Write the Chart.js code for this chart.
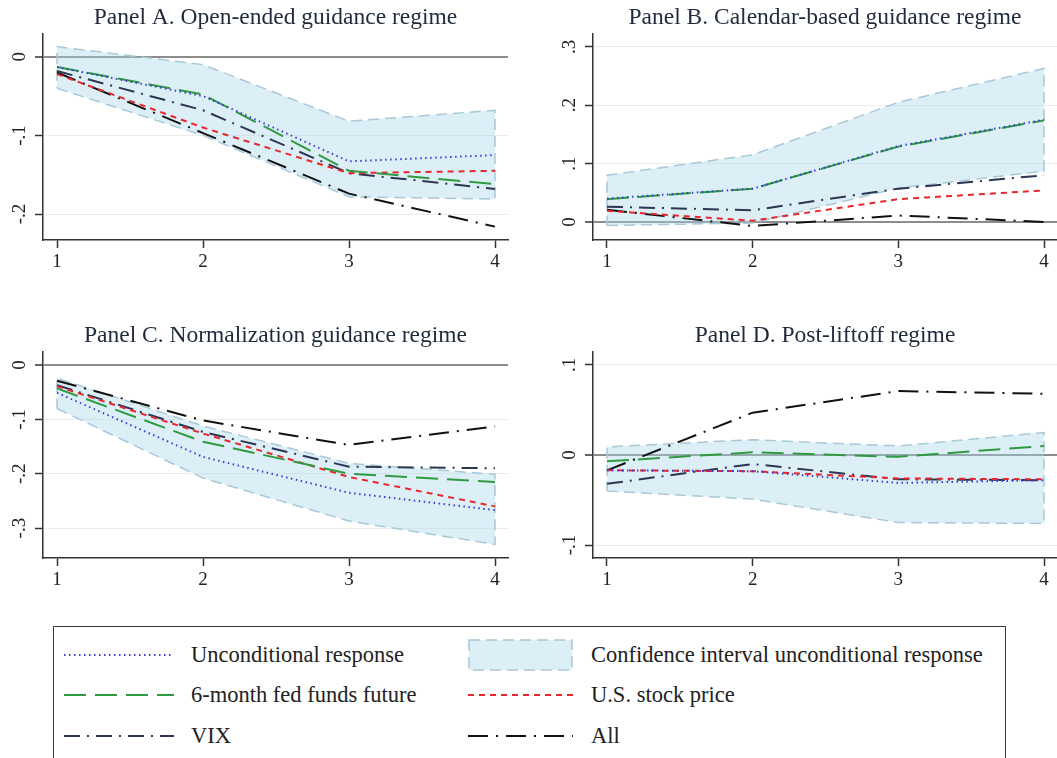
<!DOCTYPE html>
<html>
<head>
<meta charset="utf-8">
<script src="https://cdn.jsdelivr.net/npm/chart.js@4.4.1/dist/chart.umd.min.js"></script>
<style>
  body { margin: 0; width: 1057px; height: 758px; overflow: hidden; background: #fff; font-family: "Liberation Serif", "Times New Roman", serif; }
  .panel { position: absolute; }
  #legend { position: absolute; left: 53px; top: 626px; width: 953px; height: 160px; border: 1.5px solid #3a3a3a; box-sizing: border-box; }
  #legend canvas { position: absolute; }
  #legend span { position: absolute; font-size: 22.5px; line-height: 26px; color: #222; white-space: nowrap; }
</style>
</head>
<body>
<canvas id="panelA" class="panel" width="520" height="280" style="left:0;top:0"></canvas>
<canvas id="panelB" class="panel" width="507" height="280" style="left:550px;top:0"></canvas>
<canvas id="panelC" class="panel" width="520" height="280" style="left:0;top:318px"></canvas>
<canvas id="panelD" class="panel" width="507" height="280" style="left:550px;top:318px"></canvas>
<div id="legend"></div>
<script>
// horizon (days after announcement)
const horizon = [1, 2, 3, 4];

// Panel A. Open-ended guidance regime
const aUncond   = [-0.013, -0.050, -0.133, -0.125];
const aFedFunds = [-0.013, -0.048, -0.145, -0.162];
const aVix      = [-0.018, -0.068, -0.148, -0.168];
const aStock    = [-0.022, -0.090, -0.148, -0.145];
const aAll      = [-0.020, -0.097, -0.174, -0.216];
const aCiHigh   = [0.013, -0.010, -0.082, -0.068];
const aCiLow    = [-0.040, -0.100, -0.178, -0.181];
const aTicks    = [0, -0.1, -0.2];

// Panel B. Calendar-based guidance regime
const bUncond   = [0.040, 0.057, 0.130, 0.175];
const bFedFunds = [0.039, 0.057, 0.129, 0.174];
const bVix      = [0.026, 0.020, 0.057, 0.080];
const bStock    = [0.019, 0.002, 0.039, 0.054];
const bAll      = [0.021, -0.007, 0.011, 0.000];
const bCiHigh   = [0.080, 0.115, 0.205, 0.263];
const bCiLow    = [-0.006, -0.002, 0.058, 0.087];
const bTicks    = [0, 0.1, 0.2, 0.3];

// Panel C. Normalization guidance regime
const cUncond   = [-0.051, -0.169, -0.235, -0.267];
const cFedFunds = [-0.043, -0.141, -0.200, -0.215];
const cVix      = [-0.037, -0.123, -0.187, -0.190];
const cStock    = [-0.039, -0.126, -0.206, -0.260];
const cAll      = [-0.029, -0.102, -0.147, -0.113];
const cCiHigh   = [-0.024, -0.112, -0.181, -0.201];
const cCiLow    = [-0.080, -0.208, -0.287, -0.330];
const cTicks    = [0, -0.1, -0.2, -0.3];

// Panel D. Post-liftoff regime
const dUncond   = [-0.017, -0.018, -0.031, -0.028];
const dFedFunds = [-0.007, 0.003, -0.002, 0.010];
const dVix      = [-0.032, -0.010, -0.027, -0.028];
const dStock    = [-0.017, -0.018, -0.026, -0.027];
const dAll      = [-0.017, 0.047, 0.071, 0.068];
const dCiHigh   = [0.009, 0.017, 0.010, 0.025];
const dCiLow    = [-0.040, -0.049, -0.075, -0.076];
const dTicks    = [-0.1, 0, 0.1];

const SERIF = '"Liberation Serif", "Times New Roman", serif';

// line look for each series (also used by the legend swatches)
const styles = {
  uncond: { color: "#3b3bd8", dash: [1.5, 3.5], width: 2 },
  fed:    { color: "#2f9a3f", dash: [22, 9], width: 2 },
  vix:    { color: "#2c3652", dash: [16, 7, 2, 7], width: 2 },
  stock:  { color: "#e8262c", dash: [6, 5], width: 2 },
  all:    { color: "#111111", dash: [20, 8, 2, 8], width: 2 },
  ci:     { color: "#a9c8d8", dash: [11, 6], width: 1.5, fill: "rgba(168,214,236,0.4)" }
};

const fmtTick = v => v === 0 ? "0" : (v < 0 ? "-" : "") + "." + Math.round(Math.abs(v) * 10);
const pts = arr => arr.map((y, i) => ({ x: horizon[i], y }));

// Stata-style y labels, rotated to read bottom-to-top
const yTickLabels = {
  id: "yTickLabels",
  afterDraw(chart) {
    const s = chart.scales.y, ctx = chart.ctx;
    ctx.save();
    ctx.font = "19px " + SERIF;
    ctx.fillStyle = "#222";
    ctx.textAlign = "center";
    ctx.textBaseline = "middle";
    s.ticks.forEach(t => {
      ctx.save();
      ctx.translate(s.right - 23, s.getPixelForValue(t.value));
      ctx.rotate(-Math.PI / 2);
      ctx.fillText(fmtTick(t.value), 0, 0);
      ctx.restore();
    });
    ctx.restore();
  }
};

function lineSet(data, st) {
  return {
    data: pts(data), borderColor: st.color, borderDash: st.dash, borderWidth: st.width,
    borderCapStyle: "butt", fill: false, pointRadius: 0, tension: 0
  };
}

function panel(id, title, s, yMin, yMax, yTicks, padRight) {
  // confidence band as one closed shape: lower edge out, upper edge back
  const band = pts(s.ciLow).concat(pts(s.ciHigh).reverse(), pts(s.ciLow).slice(0, 1));
  new Chart(document.getElementById(id), {
    type: "line",
    data: {
      datasets: [
        { data: band, borderColor: styles.ci.color, borderDash: styles.ci.dash, borderWidth: styles.ci.width,
          backgroundColor: styles.ci.fill, fill: "shape", pointRadius: 0, tension: 0, order: 1 },
        lineSet(s.uncond, styles.uncond),
        lineSet(s.fed, styles.fed),
        lineSet(s.stock, styles.stock),
        lineSet(s.vix, styles.vix),
        lineSet(s.all, styles.all)
      ]
    },
    options: {
      responsive: false,
      animation: false,
      devicePixelRatio: 1,
      layout: { padding: { left: 0, right: padRight, top: 0, bottom: 0 } },
      plugins: {
        legend: { display: false },
        tooltip: { enabled: false },
        title: {
          display: true, text: title, fullSize: false, color: "#1f2a3c",
          font: { family: SERIF, size: 23.5, weight: "normal" },
          padding: { top: 4, bottom: 1.8 }
        }
      },
      scales: {
        x: {
          type: "linear", min: 0.904, max: 4.089,
          afterBuildTicks: sc => { sc.ticks = horizon.map(v => ({ value: v })); },
          afterFit: sc => { sc.height = 40; },
          grid: { drawOnChartArea: false, tickLength: 8, tickColor: "#333", tickWidth: 1.5 },
          border: { color: "#333", width: 1.5 },
          ticks: { font: { family: SERIF, size: 19 }, color: "#222", padding: 3, maxRotation: 0, callback: v => String(v) }
        },
        y: {
          min: yMin, max: yMax,
          afterBuildTicks: sc => { sc.ticks = yTicks.map(v => ({ value: v })); },
          afterFit: sc => { sc.width = 43; },
          grid: {
            color: c => c.tick && c.tick.value === 0 ? "#8c8c8c" : "#ebebeb",
            lineWidth: c => c.tick && c.tick.value === 0 ? 2 : 1,
            tickLength: 8, tickColor: "#333", tickWidth: 1.5
          },
          border: { color: "#333", width: 1.5 },
          ticks: { display: false }
        }
      }
    },
    plugins: [yTickLabels]
  });
}

panel("panelA", "Panel A. Open-ended guidance regime",
  { uncond: aUncond, fed: aFedFunds, vix: aVix, stock: aStock, all: aAll, ciHigh: aCiHigh, ciLow: aCiLow },
  -0.233, 0.029, aTicks, 12);
panel("panelB", "Panel B. Calendar-based guidance regime",
  { uncond: bUncond, fed: bFedFunds, vix: bVix, stock: bStock, all: bAll, ciHigh: bCiHigh, ciLow: bCiLow },
  -0.031, 0.322, bTicks, 0);
panel("panelC", "Panel C. Normalization guidance regime",
  { uncond: cUncond, fed: cFedFunds, vix: cVix, stock: cStock, all: cAll, ciHigh: cCiHigh, ciLow: cCiLow },
  -0.355, 0.024, cTicks, 12);
panel("panelD", "Panel D. Post-liftoff regime",
  { uncond: dUncond, fed: dFedFunds, vix: dVix, stock: dStock, all: dAll, ciHigh: dCiHigh, ciLow: dCiLow },
  -0.1144, 0.1144, dTicks, 0);

// legend: two columns, three rows
const legendItems = [
  { key: "uncond", label: "Unconditional response", col: 0, row: 0 },
  { key: "ci", label: "Confidence interval unconditional response", col: 1, row: 0 },
  { key: "fed", label: "6-month fed funds future", col: 0, row: 1 },
  { key: "stock", label: "U.S. stock price", col: 1, row: 1 },
  { key: "vix", label: "VIX", col: 0, row: 2 },
  { key: "all", label: "All", col: 1, row: 2 }
];
const legendEl = document.getElementById("legend");
const colSample = [10, 414], colText = [137, 537], rowMid = [28, 68, 109];

legendItems.forEach(it => {
  const st = styles[it.key];
  const cv = document.createElement("canvas");
  const w = it.col === 0 ? 110 : 105, h = 34;
  cv.width = w; cv.height = h;
  cv.style.left = colSample[it.col] + "px";
  cv.style.top = (rowMid[it.row] - h / 2) + "px";
  const g = cv.getContext("2d");
  if (it.key === "ci") {
    g.fillStyle = st.fill;
    g.fillRect(1, 2, w - 2, h - 4);
    g.strokeStyle = st.color; g.lineWidth = st.width; g.setLineDash(st.dash);
    g.strokeRect(1, 2, w - 2, h - 4);
  } else {
    g.strokeStyle = st.color; g.lineWidth = st.width; g.setLineDash(st.dash);
    g.beginPath(); g.moveTo(0, h / 2); g.lineTo(w, h / 2); g.stroke();
  }
  legendEl.appendChild(cv);
  const sp = document.createElement("span");
  sp.textContent = it.label;
  sp.style.left = colText[it.col] + "px";
  sp.style.top = (rowMid[it.row] - 13) + "px";
  legendEl.appendChild(sp);
});
</script>
</body>
</html>
